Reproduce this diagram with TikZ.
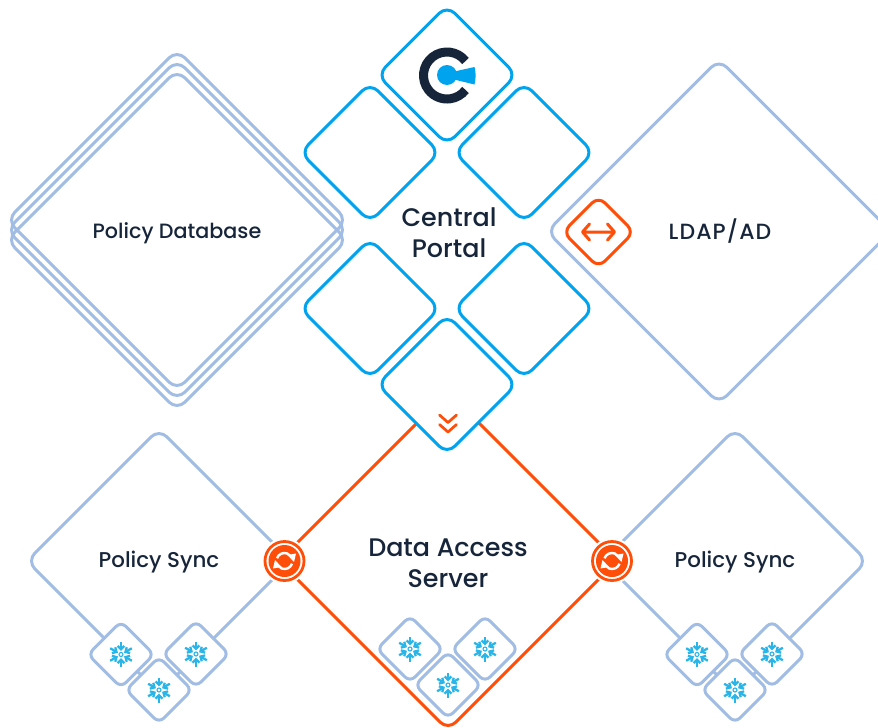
\documentclass[tikz,border=0pt]{standalone}
\usepackage{fontspec}
\setmainfont{Poppins}[UprightFont={* Medium}]
\usetikzlibrary{shapes.geometric}
\definecolor{bluec}{HTML}{00A3EE}
\definecolor{lightc}{HTML}{A2BDE4}
\definecolor{orangec}{HTML}{FF4E0A}
\definecolor{darkc}{HTML}{16253A}
\definecolor{snowc}{HTML}{29B5E8}
\tikzset{
  dia/.style={diamond,aspect=1,inner sep=0pt,outer sep=0pt,minimum width=#1,minimum height=#1,line join=round},
  bluebox/.style={dia=139pt,draw=bluec,line width=3pt,fill=white,rounded corners=11pt},
  bigbox/.style={dia=340pt,draw=lightc,line width=3pt,rounded corners=11pt},
  ldapbox/.style={dia=344pt,draw=lightc,line width=3pt,rounded corners=11pt},
  syncbox/.style={dia=264pt,draw=lightc,line width=3pt,rounded corners=11pt},
  serverbox/.style={dia=338pt,draw=orangec,line width=3pt,rounded corners=11pt},
  badge/.style={dia=66pt,draw=lightc,line width=3pt,fill=white,rounded corners=7pt},
  orangebadge/.style={dia=71pt,draw=orangec,line width=3pt,fill=white,rounded corners=9pt},
  ring/.style={circle,draw=orangec,line width=2.8pt,fill=white,minimum size=39pt,inner sep=0pt,outer sep=0pt,preaction={draw=white,line width=7pt}},
  core/.style={circle,fill=orangec,minimum size=32pt,inner sep=0pt,outer sep=0pt},
  lab/.style={text=darkc,align=center,font=\fontsize{#1}{24}\selectfont,inner sep=0pt},
  biglab/.style={text=darkc,align=center,font=\fontsize{25.4}{30.5}\selectfont,inner sep=0pt},
}
\newcommand{\snowmark}[1]{%
  \begin{scope}[shift={(#1)},y=1pt,snowc,line width=2.3pt]
    \draw[line width=1.1pt] (0,0) circle (2pt);
    \foreach \a in {30,90,150,210,270,330}{
      \draw[rotate=\a] (5,0) -- (12.5,0);
      \draw[rotate=\a,line cap=butt] (8.6,3.4) -- (5.2,0) -- (8.6,-3.4);
    }
  \end{scope}}
\newcommand{\syncmark}[1]{%
  \begin{scope}[shift={(#1)},y=1pt,white]
    \draw[line width=2.4pt] (160:8pt) arc[start angle=160,end angle=35,radius=8pt];
    \fill (11.5,7.5) -- (3,6) -- (9.5,-1) -- cycle;
    \draw[line width=2.4pt] (-20:8pt) arc[start angle=-20,end angle=-145,radius=8pt];
    \fill (-11.5,-7.5) -- (-3,-6) -- (-9.5,1) -- cycle;
  \end{scope}}
\begin{document}
\begin{tikzpicture}[x=1pt,y=-1pt]
\useasboundingbox (0,0) rectangle (878,728);
\clip (0,0) rectangle (878,728);
% policy database stack
\node[bigbox] (dbtop) at (177,220) {};
\node[bigbox] (dbmid) at (177,230) {};
\node[bigbox] (dbfront) at (177,240) {};
\node[lab=20.7] (dblabel) at (177,233) {Policy Database};
% ldap
\node[ldapbox] (ldap) at (719,231.5) {};
\node[lab=22] (ldaplabel) at (720,231.5) {\addfontfeature{LetterSpace=5}LDAP/AD};
\node[orangebadge] (link) at (598.5,232) {};
\draw[orangec,line width=3pt,line cap=round,line join=round]
  (584,232) -- (614,232)
  (589.5,224) -- (582.5,232) -- (589.5,240)
  (607.5,224) -- (614.5,232) -- (607.5,240);
% server and sync
\node[syncbox] (syncl) at (159,561) {};
\node[syncbox] (syncr) at (735,561) {};
\node[serverbox] (server) at (448,561) {};
% central portal
\node[bluebox] (logo) at (447,75) {};
\node[bluebox] (ptl) at (370,152.5) {};
\node[bluebox] (ptr) at (524,152.5) {};
\node[bluebox] (pbl) at (370,308.5) {};
\node[bluebox] (pbr) at (524,308.5) {};
\node[bluebox] (pdown) at (447,384.5) {};
\node[biglab] (portal) at (449,232.5) {Central\\Portal};
\node[biglab] (serverlabel) at (448,563.5) {Data Access\\Server};
\node[lab=21.4] (synclabell) at (159,562) {Policy Sync};
\node[lab=21.4] (synclabelr) at (735,562) {Policy Sync};
% logo
\draw[darkc,line width=9pt] (447,75.5) ++(38:23.5pt) arc[start angle=38,end angle=322,radius=23.5pt];
\fill[bluec] (447,75) circle (10pt);
\fill[bluec] (452,72) -- (474.5,67) .. controls (476,72) and (476,79) .. (474.5,84.5) -- (452,79) -- cycle;
% chevrons
\draw[orangec,line width=2.7pt,line cap=round,line join=round]
  (439.5,415) -- (448,422.5) -- (456.5,415)
  (439.5,424.5) -- (448,432) -- (456.5,424.5);
% sync rings
\node[ring] (ringl) at (284.5,561) {};
\node[core] (corel) at (284.5,561) {};
\syncmark{284.5,561}
\node[ring] (ringr) at (612,561) {};
\node[core] (corer) at (612,561) {};
\syncmark{612,561}
% badges
\foreach \n/\x/\y in {a/121/654.5,b/196/654,c/159/690,d/410/649,e/485/649,f/448/685,g/697/654.5,h/772/654,i/735/690}{
  \node[badge] (badge\n) at (\x,\y) {};
  \snowmark{\x,\y}
}
\end{tikzpicture}
\end{document}
